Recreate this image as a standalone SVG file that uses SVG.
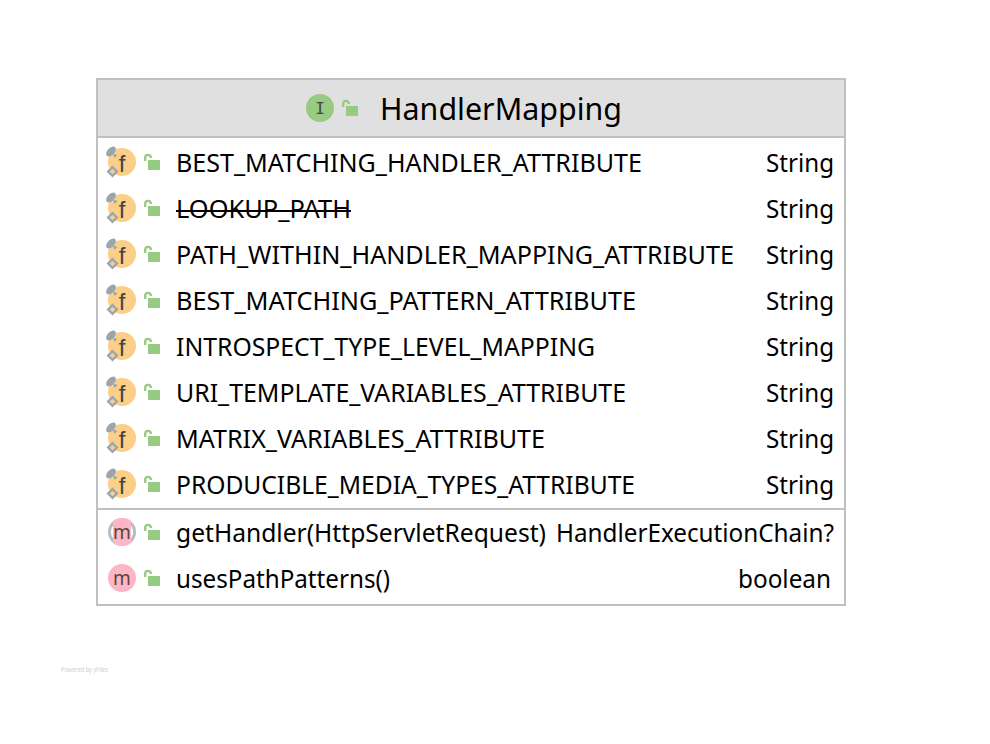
<svg xmlns="http://www.w3.org/2000/svg" width="990" height="744" viewBox="0 0 990 744">
<style>
text{font-family:"Noto Sans","Open Sans","Liberation Sans",sans-serif;fill:#000}
.t{font-size:25px}
.title{font-size:31px}
.b{fill:none;stroke:#c0c0c0;stroke-width:2}
.yf{font-size:7px;fill:#d0d0d0}
.m{font-size:19px;fill:#544}
.f{font-family:"Liberation Sans",sans-serif;font-size:24px;fill:#444}
.i{font-family:"DejaVu Sans Mono","Liberation Mono",monospace;font-size:16px;fill:#444}
</style>
<defs>
<clipPath id="pk"><rect x="113" y="518" width="18" height="28"/></clipPath>
<g id="lock"><path d="M145.200 161V157.500Q145.200 154.800 148 154.800Q150.800 154.800 151 158" fill="none" stroke="#97ca82" stroke-width="2.300"/><rect x="148" y="160" width="12" height="10" fill="#97ca82"/></g>
<g id="fi"><circle cx="122" cy="162" r="14" fill="#fbcf88"/>
<ellipse cx="111" cy="151.500" rx="6" ry="3.500" transform="rotate(-45 111 151.500)" fill="#9aa5ae"/><path d="M113 153.500L117.500 155L114.500 158Z" fill="#9aa5ae"/>
<path d="M112.500 165.500L118.500 171.500L112.500 177.500L106.500 171.500Z" fill="#9aa5ae"/><rect x="110.500" y="169.500" width="4" height="4" transform="rotate(45 112.500 171.500)" fill="#fbcf88"/>
<text class="f" x="122" y="172" text-anchor="middle">f</text></g>
<g id="mi"><circle cx="122" cy="0" r="14" fill="#ffb6c4"/><text class="m" x="122" y="7" text-anchor="middle">m</text></g>
</defs>
<rect width="990" height="744" fill="#fff"/>
<g id="connectors"></g>
<g id="HandlerMapping">
<rect x="98" y="80" width="747" height="57" fill="#e0e0e0"/>
<rect class="b" x="97" y="79" width="748" height="526"/>
<path class="b" d="M97 137H845M97 509H845"/>
<circle cx="320" cy="108" r="14" fill="#97ca82"/>
<text class="i" x="320" y="114" text-anchor="middle">I</text>
<use href="#lock" transform="translate(198 -54)"/>
<text class="title" x="380" y="120" textLength="242" lengthAdjust="spacingAndGlyphs">HandlerMapping</text>
</g>
<g id="field-1"><use href="#fi"/><use href="#lock"/><text class="t" x="176" y="172" textLength="466" lengthAdjust="spacingAndGlyphs">BEST_MATCHING_HANDLER_ATTRIBUTE</text><text class="t" x="766" y="172" textLength="68" lengthAdjust="spacingAndGlyphs">String</text></g>
<g id="field-2" transform="translate(0 46)"><use href="#fi"/><use href="#lock"/><text class="t" x="176" y="172" textLength="175" lengthAdjust="spacingAndGlyphs">LOOKUP_PATH</text><path d="M176 165H351" stroke="#000" stroke-width="2"/><text class="t" x="766" y="172" textLength="68" lengthAdjust="spacingAndGlyphs">String</text></g>
<g id="field-3" transform="translate(0 92)"><use href="#fi"/><use href="#lock"/><text class="t" x="176" y="172" textLength="558" lengthAdjust="spacingAndGlyphs">PATH_WITHIN_HANDLER_MAPPING_ATTRIBUTE</text><text class="t" x="766" y="172" textLength="68" lengthAdjust="spacingAndGlyphs">String</text></g>
<g id="field-4" transform="translate(0 138)"><use href="#fi"/><use href="#lock"/><text class="t" x="176" y="172" textLength="460" lengthAdjust="spacingAndGlyphs">BEST_MATCHING_PATTERN_ATTRIBUTE</text><text class="t" x="766" y="172" textLength="68" lengthAdjust="spacingAndGlyphs">String</text></g>
<g id="field-5" transform="translate(0 184)"><use href="#fi"/><use href="#lock"/><text class="t" x="176" y="172" textLength="419" lengthAdjust="spacingAndGlyphs">INTROSPECT_TYPE_LEVEL_MAPPING</text><text class="t" x="766" y="172" textLength="68" lengthAdjust="spacingAndGlyphs">String</text></g>
<g id="field-6" transform="translate(0 230)"><use href="#fi"/><use href="#lock"/><text class="t" x="176" y="172" textLength="450" lengthAdjust="spacingAndGlyphs">URI_TEMPLATE_VARIABLES_ATTRIBUTE</text><text class="t" x="766" y="172" textLength="68" lengthAdjust="spacingAndGlyphs">String</text></g>
<g id="field-7" transform="translate(0 276)"><use href="#fi"/><use href="#lock"/><text class="t" x="176" y="172" textLength="369" lengthAdjust="spacingAndGlyphs">MATRIX_VARIABLES_ATTRIBUTE</text><text class="t" x="766" y="172" textLength="68" lengthAdjust="spacingAndGlyphs">String</text></g>
<g id="field-8" transform="translate(0 322)"><use href="#fi"/><use href="#lock"/><text class="t" x="176" y="172" textLength="459" lengthAdjust="spacingAndGlyphs">PRODUCIBLE_MEDIA_TYPES_ATTRIBUTE</text><text class="t" x="766" y="172" textLength="68" lengthAdjust="spacingAndGlyphs">String</text></g>
<g id="method-1"><circle cx="122" cy="532" r="14" fill="#b4bcc4"/><circle cx="122" cy="532" r="11" fill="#fff"/><circle cx="122" cy="532" r="14" fill="#ffb6c4" clip-path="url(#pk)"/><text class="m" x="122" y="539" text-anchor="middle">m</text><use href="#lock" transform="translate(0 370)"/><text class="t" x="176" y="542" textLength="370" lengthAdjust="spacingAndGlyphs">getHandler(HttpServletRequest)</text><text class="t" x="556" y="542" textLength="278" lengthAdjust="spacingAndGlyphs">HandlerExecutionChain?</text></g>
<g id="method-2"><use href="#mi" y="578"/><use href="#lock" transform="translate(0 416)"/><text class="t" x="176" y="588" textLength="214" lengthAdjust="spacingAndGlyphs">usesPathPatterns()</text><text class="t" x="738" y="588" textLength="93" lengthAdjust="spacingAndGlyphs">boolean</text></g>
<text class="yf" x="61" y="672" textLength="47" lengthAdjust="spacingAndGlyphs">Powered by yFiles</text>
</svg>
